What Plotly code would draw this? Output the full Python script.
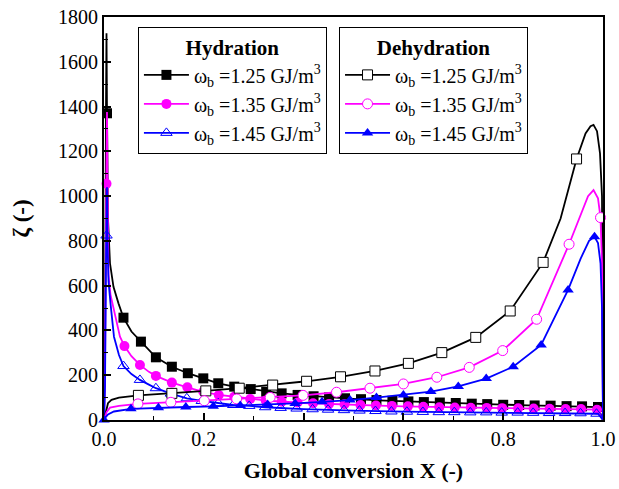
import plotly.graph_objects as go

# ---------------- data ----------------
# Hydration, 1.25 GJ/m3
h125_x = [0, 0.002, 0.004, 0.005, 0.006, 0.008, 0.012, 0.019, 0.029, 0.039, 0.055, 0.074, 0.09, 0.104, 0.136, 0.168,
          0.199, 0.229, 0.261, 0.294, 0.325, 0.356, 0.4, 0.45, 0.5, 0.55, 0.6, 0.65, 0.7, 0.75, 0.8, 0.85, 0.9, 0.95,
          0.99, 1.0]
h125_y = [0, 300, 1400, 1727, 1370, 900, 700, 595, 521, 457, 395, 350, 310, 280, 238, 209, 186, 164, 149, 138, 126,
          119, 110, 101, 94, 88, 84, 79, 75, 71, 68, 65, 63, 61, 58, 0]
h125_mx = [0.006, 0.039, 0.074, 0.104, 0.136, 0.168, 0.199, 0.229, 0.261, 0.294, 0.325, 0.356, 0.388, 0.42, 0.451,
           0.483, 0.515, 0.546, 0.578, 0.61, 0.641, 0.673, 0.705, 0.737, 0.768, 0.8, 0.832, 0.863, 0.895, 0.927,
           0.958, 0.99]
h125_my = [1370, 457, 350, 280, 238, 209, 186, 164, 149, 138, 126, 119, 112, 106, 101, 97, 93, 89, 86, 83, 80, 78,
           76, 73, 71, 68, 67, 65, 64, 62, 61, 58]

# Hydration, 1.35 GJ/m3
h135_x = [0, 0.002, 0.004, 0.005, 0.006, 0.007, 0.009, 0.013, 0.017, 0.025, 0.032, 0.041, 0.055, 0.072, 0.09, 0.104,
          0.136, 0.167, 0.199, 0.23, 0.261, 0.293, 0.33, 0.4, 0.45, 0.5, 0.55, 0.6, 0.7, 0.8, 0.9, 0.95, 0.99, 1.0]
h135_y = [0, 200, 900, 1200, 1376, 1100, 650, 560, 521, 430, 372, 330, 285, 246, 215, 197, 167, 146, 126, 112, 104,
          94, 86, 76, 71, 67, 64, 61, 56, 53, 50, 49, 46, 0]
h135_mx = [0.005, 0.041, 0.072, 0.104, 0.136, 0.167, 0.199, 0.23, 0.261, 0.293, 0.324, 0.356, 0.388, 0.419, 0.451,
           0.482, 0.514, 0.545, 0.577, 0.609, 0.64, 0.672, 0.703, 0.735, 0.767, 0.798, 0.83, 0.861, 0.893, 0.925,
           0.956, 0.988]
h135_my = [1055, 330, 246, 197, 167, 146, 126, 112, 104, 94, 87, 82, 78, 75, 72, 70, 67, 65, 63, 61, 59, 57, 56, 55,
           54, 53, 52, 51, 50, 49, 49, 46]

# Hydration, 1.45 GJ/m3
h145_x = [0, 0.002, 0.004, 0.005, 0.006, 0.007, 0.009, 0.013, 0.02, 0.03, 0.039, 0.055, 0.072, 0.09, 0.104, 0.134,
          0.166, 0.196, 0.229, 0.259, 0.291, 0.323, 0.4, 0.45, 0.5, 0.6, 0.7, 0.8, 0.9, 0.95, 0.99, 1.0]
h145_y = [0, 150, 700, 900, 1040, 800, 620, 521, 372, 290, 241, 205, 179, 158, 142, 118, 97, 85, 75, 67, 63, 57, 49,
          45, 42, 37, 35, 33, 31, 30, 28, 0]
h145_mx = [0.005, 0.039, 0.072, 0.104, 0.134, 0.166, 0.196, 0.229, 0.259, 0.291, 0.323, 0.354, 0.386, 0.418, 0.449,
           0.481, 0.512, 0.544, 0.576, 0.607, 0.639, 0.671, 0.702, 0.734, 0.766, 0.797, 0.829, 0.86, 0.892, 0.924,
           0.955, 0.987]
h145_my = [824, 241, 179, 142, 118, 97, 85, 75, 67, 63, 57, 54, 51, 48, 46, 44, 42, 40, 38, 37, 36, 35, 35, 34, 34,
           33, 33, 32, 31, 31, 30, 28]

# Dehydration, 1.25 GJ/m3
d125_x = [0, 0.002, 0.004, 0.008, 0.015, 0.03, 0.069, 0.136, 0.204, 0.271, 0.338, 0.406, 0.474, 0.543, 0.61, 0.677,
          0.745, 0.814, 0.88, 0.915, 0.947, 0.965, 0.975, 0.981, 0.988, 0.994, 0.998, 1.0]
d125_y = [0, 20, 50, 75, 90, 100, 110, 119, 130, 142, 156, 173, 193, 219, 253, 301, 369, 487, 704, 900, 1166, 1280,
          1312, 1318, 1290, 1191, 1000, 0]
d125_mx = [0.069, 0.136, 0.204, 0.271, 0.338, 0.406, 0.474, 0.543, 0.61, 0.677, 0.745, 0.814, 0.88, 0.947]
d125_my = [110, 119, 130, 142, 156, 173, 193, 219, 253, 301, 369, 487, 704, 1166]

# Dehydration, 1.35 GJ/m3
d135_x = [0, 0.002, 0.005, 0.012, 0.03, 0.068, 0.134, 0.201, 0.266, 0.333, 0.399, 0.466, 0.533, 0.6, 0.667, 0.732,
          0.799, 0.867, 0.932, 0.955, 0.97, 0.981, 0.99, 0.995, 0.998, 1.0]
d135_y = [0, 15, 35, 55, 63, 72, 79, 86, 94, 101, 110, 124, 142, 161, 191, 235, 310, 450, 785, 920, 1000, 1027, 990,
          904, 700, 0]
d135_mx = [0.068, 0.134, 0.201, 0.266, 0.333, 0.399, 0.466, 0.533, 0.6, 0.667, 0.732, 0.799, 0.867, 0.932, 0.995]
d135_my = [72, 79, 86, 94, 101, 110, 124, 142, 161, 191, 235, 310, 450, 785, 904]

# Dehydration, 1.45 GJ/m3
d145_x = [0, 0.003, 0.008, 0.02, 0.054, 0.109, 0.164, 0.219, 0.273, 0.328, 0.383, 0.437, 0.493, 0.546, 0.6, 0.655,
          0.71, 0.766, 0.82, 0.876, 0.93, 0.955, 0.972, 0.983, 0.99, 0.995, 0.998, 1.0]
d145_y = [0, 12, 25, 38, 50, 55, 58, 61, 65, 69, 74, 81, 89, 100, 112, 127, 150, 185, 238, 335, 581, 720, 800, 818,
          790, 700, 500, 0]
d145_mx = [0, 0.054, 0.109, 0.164, 0.219, 0.273, 0.328, 0.383, 0.437, 0.493, 0.546, 0.6, 0.655, 0.71, 0.766, 0.82,
           0.876, 0.93, 0.983]
d145_my = [0, 50, 55, 58, 61, 65, 69, 74, 81, 89, 100, 112, 127, 150, 185, 238, 335, 581, 818]

labels = ["ω<sub>b</sub> =1.25 GJ/m<sup>3</sup>",
          "ω<sub>b</sub> =1.35 GJ/m<sup>3</sup>",
          "ω<sub>b</sub> =1.45 GJ/m<sup>3</sup>"]

x_ticks = [0.0, 0.2, 0.4, 0.6, 0.8, 1.0]
y_ticks = [0, 200, 400, 600, 800, 1000, 1200, 1400, 1600, 1800]

FONT = "Times New Roman, Liberation Serif, DejaVu Serif, serif"
BLACK, MAGENTA, BLUE = "#000000", "#ff00ff", "#0000ff"
MS = 10

series = [
    (h125_x, h125_y, h125_mx, h125_my, BLACK, dict(symbol="square", color=BLACK), labels[0], "legend"),
    (h135_x, h135_y, h135_mx, h135_my, MAGENTA, dict(symbol="circle", color=MAGENTA), labels[1], "legend"),
    (h145_x, h145_y, h145_mx, h145_my, BLUE,
     dict(symbol="triangle-up-open", color=BLUE, line=dict(color=BLUE, width=1)), labels[2], "legend"),
    (d125_x, d125_y, d125_mx, d125_my, BLACK,
     dict(symbol="square", color="white", line=dict(color=BLACK, width=1)), labels[0], "legend2"),
    (d135_x, d135_y, d135_mx, d135_my, MAGENTA,
     dict(symbol="circle", color="white", line=dict(color=MAGENTA, width=1)), labels[1], "legend2"),
    (d145_x, d145_y, d145_mx, d145_my, BLUE, dict(symbol="triangle-up", color=BLUE), labels[2], "legend2"),
]

fig = go.Figure()
for lx, ly, mx, my, col, mk, name, leg in series:
    fig.add_trace(go.Scatter(x=lx, y=ly, mode="lines", line=dict(color=col, width=1.8),
                             showlegend=False, hoverinfo="skip"))
    fig.add_trace(go.Scatter(x=mx, y=my, mode="markers", marker=dict(size=MS, **mk),
                             showlegend=False, cliponaxis=False))
    fig.add_trace(go.Scatter(x=[None], y=[None], mode="lines+markers", name=name, legend=leg,
                             line=dict(color=col, width=1.8), marker=dict(size=MS, **mk)))

legend_common = dict(
    bgcolor="white", bordercolor="black", borderwidth=1,
    font=dict(family=FONT, size=20, color="black"),
    xanchor="left", yanchor="top", itemwidth=45, tracegroupgap=0,
)
fig.update_layout(
    width=619, height=489,
    margin=dict(l=104, r=16, t=17, b=69),
    paper_bgcolor="white", plot_bgcolor="white",
    font=dict(family=FONT, size=19, color="black"),
    legend=dict(x=0.068, y=0.975,
                title=dict(text="<b>Hydration</b>", side="top center",
                           font=dict(family=FONT, size=21)),
                **legend_common),
    legend2=dict(x=0.471, y=0.975,
                 title=dict(text="<b>Dehydration</b>", side="top center",
                            font=dict(family=FONT, size=21)),
                 **legend_common),
)
fig.update_xaxes(
    range=[0, 1.0], tickvals=x_ticks, ticktext=[f"{v:.1f}" for v in x_ticks],
    ticks="inside", ticklen=7, tickwidth=1.5, tickcolor="black",
    minor=dict(ticks="inside", ticklen=4, tickwidth=1.2, tickcolor="black", dtick=0.1, tick0=0),
    showline=True, linewidth=2, linecolor="black", mirror=True, showgrid=False, zeroline=False,
    tickfont=dict(family=FONT, size=20), automargin=False,
    title=dict(text="<b>Global conversion X (-)</b>", font=dict(family=FONT, size=22), standoff=14),
)
fig.update_yaxes(
    range=[0, 1800], tickvals=y_ticks,
    ticks="inside", ticklen=7, tickwidth=1.5, tickcolor="black",
    minor=dict(ticks="inside", ticklen=4, tickwidth=1.2, tickcolor="black", dtick=100, tick0=0),
    showline=True, linewidth=2, linecolor="black", mirror=True, showgrid=False, zeroline=False,
    tickfont=dict(family=FONT, size=20), automargin=False,
    title=dict(text="<b>ζ (-)</b>", font=dict(family=FONT, size=23), standoff=22),
)

fig.write_html("out.html")
